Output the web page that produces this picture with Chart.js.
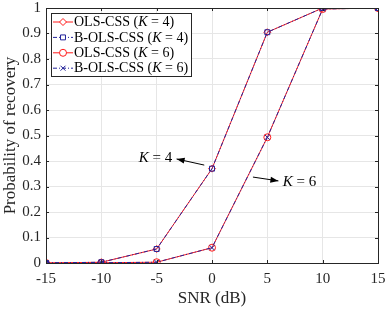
<!DOCTYPE html>
<html>
<head>
<meta charset="utf-8">
<script src="https://cdn.jsdelivr.net/npm/chart.js@4/dist/chart.umd.min.js"></script>
<style>
  html,body{margin:0;padding:0;background:#fff}
  #wrap{width:386px;height:310px;position:relative}
</style>
</head>
<body>
<div id="wrap"><canvas id="c"></canvas></div>
<script>
const snr = [-15, -10, -5, 0, 5, 10, 15]
const olsK4  = [0, 0.003, 0.055, 0.37, 0.905, 1, 1]
const bolsK4 = [0, 0.003, 0.055, 0.37, 0.905, 1, 1]
const olsK6  = [0, 0.001, 0.003, 0.06, 0.493, 0.996, 1]
const bolsK6 = [0, 0.001, 0.003, 0.06, 0.493, 0.996, 1]
const xTicks = [-15, -10, -5, 0, 5, 10, 15]
const yTicks = [0, 0.1, 0.2, 0.3, 0.4, 0.5, 0.6, 0.7, 0.8, 0.9, 1]

const RED = '#ff1a1a', BLUE = '#23239a', SERIF = '"Liberation Serif", "DejaVu Serif", serif'
const DASH = [4,2,1,2]

const legendItems = [
  { pre:'OLS-CSS (', k:'4', color:RED, dash:[], pt:'rectRot' },
  { pre:'B-OLS-CSS (', k:'4', color:BLUE, dash:DASH, pt:'rect' },
  { pre:'OLS-CSS (', k:'6', color:RED, dash:[], pt:'circle' },
  { pre:'B-OLS-CSS (', k:'6', color:BLUE, dash:DASH, pt:'crossRot' }
]

// annotation anchors in data units
const notes = [
  { text:'4', tx:-3.6, ty:0.412, align:'right', from:[-0.7, 0.384], to:[-3.2, 0.408] },
  { text:'6', tx:6.4, ty:0.318, align:'left', from:[3.7, 0.337], to:[6.0, 0.322] }
]

function ds(label, data, color, dash, pt, order) {
  return { label, order, data: snr.map((x,i)=>({x, y:data[i]})), borderColor:color, borderWidth:1, borderDash:dash,
    pointStyle:pt, pointRadius:3.5, pointBorderColor:color, pointBackgroundColor:'rgba(0,0,0,0)', pointBorderWidth:1, tension:0 }
}

function kText(ctx, x, y, pre, k, size) {
  ctx.font = `${size}px ${SERIF}`
  ctx.fillText(pre, x, y); x += ctx.measureText(pre).width
  ctx.font = `italic ${size}px ${SERIF}`
  ctx.fillText('K', x, y); x += ctx.measureText('K').width
  ctx.font = `${size}px ${SERIF}`
  const rest = ' = ' + k + (pre ? ')' : '')
  ctx.fillText(rest, x, y); x += ctx.measureText(rest).width
  return x
}

const decor = {
  id:'decor',
  afterDraw(chart) {
    const ctx = chart.ctx, a = chart.chartArea, xs = chart.scales.x, ys = chart.scales.y
    ctx.save()
    // box + inward ticks
    ctx.strokeStyle = '#262626'; ctx.lineWidth = 1
    ctx.strokeRect(Math.round(a.left)+0.5, Math.round(a.top)+0.5, Math.round(a.right-a.left), Math.round(a.bottom-a.top))
    ctx.beginPath()
    xTicks.forEach(v => { const p = Math.round(xs.getPixelForValue(v))+0.5
      ctx.moveTo(p, a.bottom); ctx.lineTo(p, a.bottom-3); ctx.moveTo(p, a.top); ctx.lineTo(p, a.top+3) })
    yTicks.forEach(v => { const p = Math.round(ys.getPixelForValue(v))+0.5
      ctx.moveTo(a.left, p); ctx.lineTo(a.left+3, p); ctx.moveTo(a.right, p); ctx.lineTo(a.right-3, p) })
    ctx.stroke()

    // annotations
    ctx.fillStyle = '#000'; ctx.strokeStyle = '#000'
    ctx.textBaseline = 'middle'
    notes.forEach(n => {
      const fx = xs.getPixelForValue(n.from[0]), fy = ys.getPixelForValue(n.from[1])
      const tx = xs.getPixelForValue(n.to[0]), ty = ys.getPixelForValue(n.to[1])
      ctx.beginPath(); ctx.moveTo(fx, fy); ctx.lineTo(tx, ty); ctx.stroke()
      const ang = Math.atan2(ty-fy, tx-fx), L = 8, W = 3
      ctx.beginPath()
      ctx.moveTo(tx, ty)
      ctx.lineTo(tx - L*Math.cos(ang) + W*Math.sin(ang), ty - L*Math.sin(ang) - W*Math.cos(ang))
      ctx.lineTo(tx - L*Math.cos(ang) - W*Math.sin(ang), ty - L*Math.sin(ang) + W*Math.cos(ang))
      ctx.closePath(); ctx.fill()
      let x = xs.getPixelForValue(n.tx); const y = ys.getPixelForValue(n.ty)
      if (n.align === 'right') {
        ctx.font = `italic 15px ${SERIF}`; let w = ctx.measureText('K').width
        ctx.font = `15px ${SERIF}`; w += ctx.measureText(' = ' + n.text).width
        x -= w
      }
      ctx.textAlign = 'left'
      kText(ctx, x, y, '', n.text, 15)
    })

    // legend
    const lx = 51, ly = 13, lw = 140, lh = 63
    ctx.fillStyle = '#fff'; ctx.fillRect(lx, ly, lw, lh)
    ctx.strokeStyle = '#262626'; ctx.strokeRect(lx+0.5, ly+0.5, lw, lh)
    legendItems.forEach((it, i) => {
      const y = ly + 9 + i*15.4
      ctx.strokeStyle = it.color; ctx.setLineDash(it.dash); ctx.lineWidth = 1
      ctx.beginPath(); ctx.moveTo(lx+2, y); ctx.lineTo(lx+22, y); ctx.stroke(); ctx.setLineDash([])
      ctx.fillStyle = '#fff'
      Chart.helpers.drawPoint(ctx, { pointStyle:it.pt, radius:3.5, borderWidth:1 }, lx+12, y)
      ctx.fillStyle = '#000'
      kText(ctx, lx+23, y+0.5, it.pre, it.k, 14)
    })
    ctx.restore()
  }
}

new Chart(document.getElementById('c'), {
  type:'line',
  data:{ datasets:[
    ds('OLS-CSS (K = 4)', olsK4, RED, [], 'rectRot', 2),
    ds('B-OLS-CSS (K = 4)', bolsK4, BLUE, DASH, 'rect', 1),
    ds('OLS-CSS (K = 6)', olsK6, RED, [], 'circle', 2),
    ds('B-OLS-CSS (K = 6)', bolsK6, BLUE, DASH, 'crossRot', 1)
  ]},
  options:{
    responsive:true, maintainAspectRatio:false, animation:false,
    layout:{ padding:{ top:8, right:8, left:0, bottom:0 } },
    plugins:{ legend:{display:false}, tooltip:{enabled:false} },
    scales:{
      x:{ type:'linear', min:-15, max:15,
        afterBuildTicks(s){ s.ticks = xTicks.map(v=>({value:v})) },
        afterFit(s){ s.height = 47; s.paddingLeft = 0; s.paddingRight = 0 },
        grid:{ color:'#e6e6e6', drawTicks:false },
        border:{ display:false },
        ticks:{ color:'#262626', padding:7, maxRotation:0, font:{ family:SERIF, size:15 }, callback:v=>String(v) },
        title:{ display:true, text:'SNR (dB)', color:'#262626', padding:{top:0,bottom:1}, font:{ family:SERIF, size:17 } } },
      y:{ min:0, max:1,
        afterBuildTicks(s){ s.ticks = yTicks.map(v=>({value:v})) },
        afterFit(s){ s.width = 46; s.paddingTop = 0; s.paddingBottom = 0 },
        grid:{ color:'#e6e6e6', drawTicks:false },
        border:{ display:false },
        ticks:{ color:'#262626', padding:5, font:{ family:SERIF, size:15 }, callback:v=>String(+v.toFixed(1)) },
        title:{ display:true, text:'Probability of recovery', color:'#262626', padding:{top:0,bottom:0}, font:{ family:SERIF, size:17 } } }
    }
  },
  plugins:[decor]
})
</script>
</body>
</html>
